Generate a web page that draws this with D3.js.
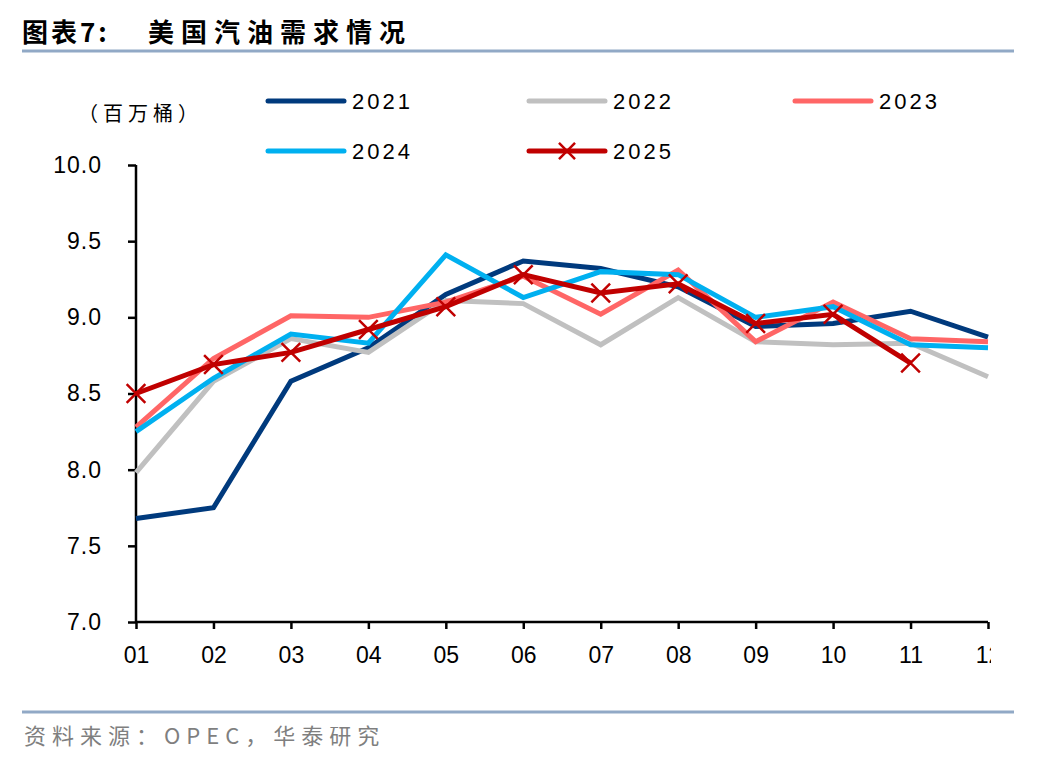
<!DOCTYPE html>
<html>
<head>
<meta charset="utf-8">
<script src="https://cdn.jsdelivr.net/npm/d3@7"></script>
<style>
  body { margin: 0; background: #fff; }
  svg { display: block; }
</style>
</head>
<body>
<div id="chart"></div>
<script>
// month labels on the x axis
var months = ["01", "02", "03", "04", "05", "06", "07", "08", "09", "10", "11", "12"];
var yTicks = [7.0, 7.5, 8.0, 8.5, 9.0, 9.5, 10.0];

// US gasoline demand, million barrels per day
var y2021 = [7.68, 7.75, 8.58, 8.80, 9.15, 9.37, 9.32, 9.20, 8.94, 8.96, 9.04, 8.87];
var y2022 = [7.98, 8.58, 8.86, 8.77, 9.11, 9.09, 8.82, 9.13, 8.84, 8.82, 8.83, 8.61];
var y2023 = [8.28, 8.73, 9.01, 9.00, 9.10, 9.27, 9.02, 9.31, 8.84, 9.10, 8.86, 8.84];
var y2024 = [8.25, 8.60, 8.89, 8.83, 9.41, 9.13, 9.30, 9.28, 9.00, 9.07, 8.82, 8.80];
var y2025 = [8.50, 8.69, 8.77, 8.92, 9.07, 9.28, 9.16, 9.22, 8.96, 9.02, 8.70];

var seriesNames = ["2021", "2022", "2023", "2024", "2025"];
var seriesColors = ["#003A7D", "#C0C0C0", "#FF6666", "#00B0F0", "#C00000"];
var seriesValues = [y2021, y2022, y2023, y2024, y2025];

var w = 1048, h = 760;
var svg = d3.select("#chart").append("svg")
    .attr("width", w)
    .attr("height", h);

var cjk = "'Noto Sans CJK SC', 'Noto Sans', sans-serif";
var latin = "'Liberation Sans', Arial, sans-serif";

// title + rule
svg.append("text")
    .attr("x", 22).attr("y", 42)
    .style("font-family", cjk)
    .style("font-weight", "bold")
    .style("font-size", "26px")
    .style("letter-spacing", "3px")
    .style("fill", "#000")
    .text("图表7:");
svg.append("text")
    .attr("x", 148).attr("y", 42)
    .style("font-family", cjk)
    .style("font-weight", "bold")
    .style("font-size", "26px")
    .style("letter-spacing", "7px")
    .style("fill", "#000")
    .text("美国汽油需求情况");
svg.append("line")
    .attr("x1", 22).attr("x2", 1014)
    .attr("y1", 51).attr("y2", 51)
    .style("stroke", "#91A9C6")
    .style("stroke-width", 3);

// unit label
svg.append("text")
    .attr("x", 78).attr("y", 121)
    .style("font-family", cjk)
    .style("font-size", "20px")
    .style("letter-spacing", "5px")
    .style("fill", "#000")
    .text("（百万桶）");

// plot area bounds
var pLeft = 136, pRight = 988, pTop = 165, pBottom = 622;
var xScale = d3.scalePoint().domain(months).range([pLeft, pRight]);
var yScale = d3.scaleLinear().domain([7, 10]).range([pBottom, pTop]);

// axes
var yAxis = svg.append("g")
    .attr("transform", `translate(${pLeft},0)`)
    .call(d3.axisLeft(yScale)
        .tickValues(yTicks)
        .tickSize(8)
        .tickPadding(25)
        .tickFormat(d3.format(".1f")));

// x labels are cut off just past the last tick, like the source
var xAxis = svg.append("g")
    .attr("transform", `translate(0,${pBottom})`)
    .attr("clip-path", "url(#xclip)")
    .call(d3.axisBottom(xScale)
        .tickSize(7)
        .tickPadding(18));

xAxis.append("clipPath").attr("id", "xclip")
    .append("rect")
    .attr("x", 100).attr("y", -20)
    .attr("width", 891).attr("height", 90);

svg.selectAll(".domain")
    .style("stroke", "#000")
    .style("stroke-width", 2.5);
svg.selectAll(".tick line")
    .style("stroke", "#000")
    .style("stroke-width", 2.5);
svg.selectAll(".tick text")
    .style("font-family", latin)
    .style("font-size", "23px")
    .style("fill", "#000");
yAxis.selectAll(".tick text")
    .attr("dx", -1)
    .style("letter-spacing", "1px");
// drop the outer tick stubs on the axis paths
yAxis.select(".domain").attr("d", `M0,${pTop}V${pBottom}`);
xAxis.select(".domain").attr("d", `M${pLeft},0H${pRight}`);

// lines
var line = d3.line()
    .x((d, i) => xScale(months[i]))
    .y(d => yScale(d));

svg.selectAll(".series")
    .data(seriesValues)
    .enter().append("path")
    .attr("class", "series")
    .attr("d", d => line(d))
    .style("fill", "none")
    .style("stroke", (d, i) => seriesColors[i])
    .style("stroke-width", 5)
    .style("stroke-linejoin", "miter");

// x markers for 2025
var cross = d3.symbol().type(d3.symbolTimes).size(230);
svg.selectAll(".mark")
    .data(y2025)
    .enter().append("path")
    .attr("class", "mark")
    .attr("transform", (d, i) => `translate(${xScale(months[i])},${yScale(d)})`)
    .attr("d", cross)
    .style("fill", "none")
    .style("stroke", seriesColors[4])
    .style("stroke-width", 2.5);

// legend
var legendPos = [
    { x: 266, y: 101 }, { x: 527, y: 101 }, { x: 793, y: 101 },
    { x: 266, y: 151 }, { x: 527, y: 151 }
];
var legend = svg.selectAll(".legend")
    .data(seriesNames)
    .enter().append("g")
    .attr("class", "legend")
    .attr("transform", (d, i) => `translate(${legendPos[i].x},${legendPos[i].y})`);

legend.append("line")
    .attr("x1", 2).attr("x2", 78)
    .attr("y1", 0).attr("y2", 0)
    .style("stroke", (d, i) => seriesColors[i])
    .style("stroke-width", 5)
    .style("stroke-linecap", "round");

legend.filter((d, i) => i === 4)
    .append("path")
    .attr("transform", "translate(40,0)")
    .attr("d", d3.symbol().type(d3.symbolTimes).size(170))
    .style("fill", "none")
    .style("stroke", seriesColors[4])
    .style("stroke-width", 2.5);

legend.append("text")
    .attr("x", 86).attr("y", 8)
    .style("font-family", latin)
    .style("font-size", "22px")
    .style("letter-spacing", "3px")
    .style("fill", "#000")
    .text(d => d);

// footer
svg.append("line")
    .attr("x1", 22).attr("x2", 1014)
    .attr("y1", 712).attr("y2", 712)
    .style("stroke", "#91A9C6")
    .style("stroke-width", 3);
svg.append("text")
    .attr("x", 24).attr("y", 744)
    .style("font-family", cjk)
    .style("font-size", "22px")
    .style("letter-spacing", "6px")
    .style("fill", "#7F7F7F")
    .text("资料来源：OPEC，华泰研究");
</script>
</body>
</html>
